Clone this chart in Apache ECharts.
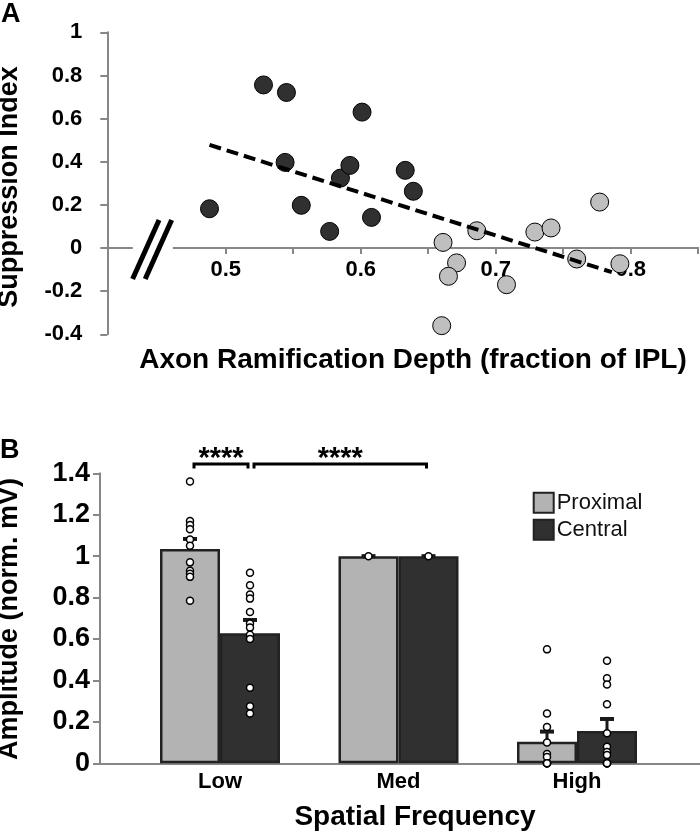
<!DOCTYPE html>
<html><head><meta charset="utf-8">
<script src="https://cdn.jsdelivr.net/npm/echarts@6/dist/echarts.min.js"></script>
<style>html,body{margin:0;padding:0;background:#fff}#c{width:700px;height:833px}</style>
</head><body><div id="c"></div>
<script>
// ---------- Panel A data ----------
const centralX = [0.488, 0.528, 0.545, 0.544, 0.556, 0.577, 0.585, 0.592, 0.601, 0.608, 0.633, 0.639];
const centralY = [0.182, 0.756, 0.721, 0.397, 0.198, 0.077, 0.324, 0.383, 0.630, 0.142, 0.360, 0.263];
const proximalX = [0.661, 0.686, 0.671, 0.665, 0.708, 0.660, 0.729, 0.741, 0.760, 0.777, 0.792];
const proximalY = [0.026, 0.080, -0.069, -0.131, -0.170, -0.360, 0.074, 0.093, -0.051, 0.213, -0.073];
const trendX = [0.488, 0.786];
const trendY = [0.478, -0.112];
const xTicksA = [0.5, 0.55, 0.6, 0.65, 0.7, 0.75, 0.8, 0.85];
const xLabelsA = [0.5, 0.6, 0.7, 0.8];

// ---------- Panel B data ----------
const categories = ['Low', 'Med', 'High'];
const seriesNames = ['Proximal', 'Central'];
const proxMean = [1.035, 1.0, 0.104];
const proxSem = [0.048, 0, 0.049];
const centMean = [0.628, 1.0, 0.156];
const centSem = [0.064, 0, 0.058];
const proxLow = [1.36, 1.17, 1.15, 1.13, 1.08, 1.05, 0.97, 0.93, 0.915, 0.90, 0.785];
const proxMed = [1.0];
const proxHigh = [0.55, 0.24, 0.175, 0.10, 0.045, 0.03, 0, 0, 0, 0];
const centLow = [0.92, 0.86, 0.815, 0.795, 0.73, 0.675, 0.655, 0.62, 0.60, 0.365, 0.275, 0.24];
const centMed = [1.0];
const centHigh = [0.495, 0.41, 0.38, 0.285, 0.145, 0.08, 0.055, 0.04, 0, 0, 0, 0];
const sigLabels = ['****', '****'];
const sigFromCat = [0, 0];
const sigFromSide = [-1, 1];
const sigToCat = [0, 1];
const sigToSide = [1, 1];
const sigLevel = [1.445, 1.445];

// ---------- styling / layout ----------
const FONT = "'Liberation Sans', Arial, Helvetica, sans-serif";
const AXIS_GRAY = '#878787';
const DARK = '#303030';
const LIGHT_PT = '#bfbfbf';
const LIGHT_BAR = '#b3b3b3';
const BAR_W = 60;
const BREAK_X = 0.446;
const GRID_A = { left: 107.3, right: 1.8, top: 32.3, bottom: 498.7 };
const Y_MIN_A = -0.4, Y_MAX_A = 1;
// distance from the grid bottom up to y = 0 (x axis crosses there)
const ZERO_OFFSET_A = (833 - GRID_A.top - GRID_A.bottom) * (0 - Y_MIN_A) / (Y_MAX_A - Y_MIN_A);

function pairs(xs, ys) { return xs.map((x, i) => [x, ys[i]]); }
function dots(lists) {
  const out = [];
  lists.forEach((l, ci) => l.forEach(v => out.push([ci, v])));
  return out;
}
function errData(mean, sem) { return mean.map((m, i) => [i, m, sem[i]]); }

function errRender(offset) {
  return function (params, api) {
    const c = api.value(0), m = api.value(1), s = api.value(2);
    const p0 = api.coord([c, m]);
    const p1 = api.coord([c, m + s]);
    const x = p0[0] + offset;
    return {
      type: 'group', children: [
        { type: 'line', shape: { x1: x, y1: p0[1], x2: x, y2: p1[1] }, style: { stroke: '#1a1a1a', lineWidth: 3 } },
        { type: 'line', shape: { x1: x - 7, y1: p1[1], x2: x + 7, y2: p1[1] }, style: { stroke: '#1a1a1a', lineWidth: 4 } }
      ]
    };
  };
}

const sigData = sigLabels.map((s, i) => [sigFromCat[i], sigFromSide[i], sigToCat[i], sigToSide[i], sigLevel[i]]);

const chart = echarts.init(document.getElementById('c'));
chart.setOption({
  animation: false,
  backgroundColor: '#fff',
  textStyle: { fontFamily: FONT },
  grid: [
    GRID_A,
    { left: 130.75, right: 33.75, top: 473.3, bottom: 69.7 },
    { left: 100, right: 0, top: 473.3, bottom: 69.7 }
  ],
  xAxis: [
    {
      type: 'value', gridIndex: 0, min: 0.4123, max: 0.85, position: 'bottom', offset: -ZERO_OFFSET_A,
      axisLine: { onZero: false, lineStyle: { color: AXIS_GRAY, width: 2 } },
      axisTick: { show: true, length: 6, lineStyle: { color: AXIS_GRAY, width: 2 }, customValues: xTicksA },
      axisLabel: { customValues: xLabelsA, margin: 11, fontSize: 22, fontWeight: 'bold', color: '#000', fontFamily: FONT },
      splitLine: { show: false }
    },
    {
      type: 'category', gridIndex: 1, data: categories,
      axisLine: { show: false }, axisTick: { show: false },
      axisLabel: { margin: 8, fontSize: 22, fontWeight: 'bold', color: '#000', fontFamily: FONT },
      splitLine: { show: false }
    },
    {
      type: 'value', gridIndex: 2, min: 0, max: 1,
      axisLine: { show: true, lineStyle: { color: AXIS_GRAY, width: 2 } },
      axisTick: { show: false }, axisLabel: { show: false }, splitLine: { show: false }
    }
  ],
  yAxis: [
    {
      type: 'value', gridIndex: 0, min: Y_MIN_A, max: Y_MAX_A, interval: 0.2,
      axisLine: { show: true, onZero: false, lineStyle: { color: AXIS_GRAY, width: 2 } },
      axisTick: { show: true, length: 7, lineStyle: { color: AXIS_GRAY, width: 2 } },
      axisLabel: { margin: 25, fontSize: 22, fontWeight: 'bold', color: '#000', fontFamily: FONT },
      splitLine: { show: false }
    },
    {
      type: 'value', gridIndex: 1, min: 0, max: 1.4, interval: 0.2, offset: 30.75,
      axisLine: { show: true, lineStyle: { color: AXIS_GRAY, width: 2 } },
      axisTick: { show: true, length: 7, lineStyle: { color: AXIS_GRAY, width: 2 } },
      axisLabel: { margin: 10, fontSize: 27, fontWeight: 'bold', color: '#000', fontFamily: FONT },
      splitLine: { show: false }
    },
    { type: 'value', gridIndex: 2, show: false, min: 0, max: 1 }
  ],
  legend: {
    data: seriesNames, orient: 'vertical', left: 532.7, top: 491.7, padding: 0,
    itemWidth: 20, itemHeight: 20, itemGap: 5, icon: 'rect',
    itemStyle: { borderColor: '#222', borderWidth: 2 },
    textStyle: { fontSize: 22, color: '#111', fontFamily: FONT, padding: [0, 0, 0, -2] }
  },
  graphic: [
    { type: 'text', x: 1, y: 15, style: { text: 'A', font: 'bold 27px ' + FONT, fill: '#000', verticalAlign: 'middle' } },
    { type: 'text', x: 0, y: 451, style: { text: 'B', font: 'bold 27px ' + FONT, fill: '#000', verticalAlign: 'middle' } },
    { type: 'text', x: 413, y: 360, style: { text: 'Axon Ramification Depth (fraction of IPL)', font: 'bold 28px ' + FONT, fill: '#000', align: 'center', verticalAlign: 'middle' } },
    { type: 'text', x: 415, y: 817, style: { text: 'Spatial Frequency', font: 'bold 28px ' + FONT, fill: '#000', align: 'center', verticalAlign: 'middle' } },
    { type: 'text', x: 10, y: 187, rotation: Math.PI / 2, style: { text: 'Suppression Index', font: 'bold 27px ' + FONT, fill: '#000', align: 'center', verticalAlign: 'middle' } },
    { type: 'text', x: 10, y: 619, rotation: Math.PI / 2, style: { text: 'Amplitude (norm. mV)', font: 'bold 27px ' + FONT, fill: '#000', align: 'center', verticalAlign: 'middle' } }
  ],
  series: [
    // Panel A
    {
      name: 'Central pts', type: 'scatter', xAxisIndex: 0, yAxisIndex: 0, z: 2,
      data: pairs(centralX, centralY), symbolSize: 18,
      itemStyle: { color: DARK, borderColor: '#000', borderWidth: 1, opacity: 1 }
    },
    {
      name: 'Proximal pts', type: 'scatter', xAxisIndex: 0, yAxisIndex: 0, z: 2,
      data: pairs(proximalX, proximalY), symbolSize: 18,
      itemStyle: { color: LIGHT_PT, borderColor: '#000', borderWidth: 1, opacity: 1 }
    },
    {
      name: 'Trend', type: 'line', xAxisIndex: 0, yAxisIndex: 0, z: 3,
      data: pairs(trendX, trendY), showSymbol: false, symbol: 'none',
      lineStyle: { color: '#000', width: 4, type: [12, 6] }
    },
    {
      name: 'Break', type: 'custom', xAxisIndex: 0, yAxisIndex: 0, z: 5,
      data: [[BREAK_X, 0]],
      renderItem: function (params, api) {
        const p = api.coord([api.value(0), api.value(1)]);
        const cx = p[0], cy = p[1];
        const k = 26 / 58;
        function slash(off) {
          return { type: 'line', shape: { x1: cx + off - 31 * k, y1: cy + 31, x2: cx + off + 28 * k, y2: cy - 28 },
            style: { stroke: '#000', lineWidth: 5, lineCap: 'butt' } };
        }
        return {
          type: 'group', children: [
            { type: 'rect', shape: { x: cx - 20, y: cy - 3, width: 40, height: 6 }, style: { fill: '#fff' } },
            slash(-6.3), slash(6.3)
          ]
        };
      }
    },
    // Panel B
    {
      name: 'Proximal', type: 'bar', xAxisIndex: 1, yAxisIndex: 1, data: proxMean,
      barWidth: BAR_W, barGap: '0%',
      itemStyle: { color: LIGHT_BAR, borderColor: '#222', borderWidth: 2.5 }
    },
    {
      name: 'Central', type: 'bar', xAxisIndex: 1, yAxisIndex: 1, data: centMean,
      barWidth: BAR_W, barGap: '0%',
      itemStyle: { color: DARK, borderColor: '#222', borderWidth: 2.5 }
    },
    {
      name: 'Proximal err', type: 'custom', xAxisIndex: 1, yAxisIndex: 1, z: 4,
      data: errData(proxMean, proxSem), encode: { x: 0, y: 1 }, renderItem: errRender(-BAR_W / 2)
    },
    {
      name: 'Central err', type: 'custom', xAxisIndex: 1, yAxisIndex: 1, z: 4,
      data: errData(centMean, centSem), encode: { x: 0, y: 1 }, renderItem: errRender(BAR_W / 2)
    },
    {
      name: 'Proximal dots', type: 'scatter', xAxisIndex: 1, yAxisIndex: 1, z: 5,
      data: dots([proxLow, proxMed, proxHigh]), symbolSize: 7, symbolOffset: [-BAR_W / 2, 0],
      itemStyle: { color: '#fff', borderColor: '#000', borderWidth: 1.5, opacity: 1 }
    },
    {
      name: 'Central dots', type: 'scatter', xAxisIndex: 1, yAxisIndex: 1, z: 5,
      data: dots([centLow, centMed, centHigh]), symbolSize: 7, symbolOffset: [BAR_W / 2, 0],
      itemStyle: { color: '#fff', borderColor: '#000', borderWidth: 1.5, opacity: 1 }
    },
    {
      name: 'Significance', type: 'custom', xAxisIndex: 1, yAxisIndex: 1, z: 6,
      data: sigData, encode: { x: 0, y: 4 },
      renderItem: function (params, api) {
        const i = params.dataIndex;
        const lvl = api.value(4);
        const a = api.coord([api.value(0), lvl]);
        const b = api.coord([api.value(2), lvl]);
        const xa = a[0] + api.value(1) * BAR_W / 2 + 4;
        const xb = b[0] + api.value(3) * BAR_W / 2 - 2;
        const y = a[1];
        return {
          type: 'group', children: [
            { type: 'polyline', shape: { points: [[xa, y + 4.5], [xa, y], [xb, y], [xb, y + 4.5]] },
              style: { stroke: '#000', lineWidth: 3, fill: null } },
            { type: 'text', x: (xa + xb) / 2, y: y - 5,
              style: { text: sigLabels[i], font: 'bold 29px ' + FONT, fill: '#000', align: 'center', verticalAlign: 'middle' } }
          ]
        };
      }
    }
  ]
});
</script>
</body></html>
